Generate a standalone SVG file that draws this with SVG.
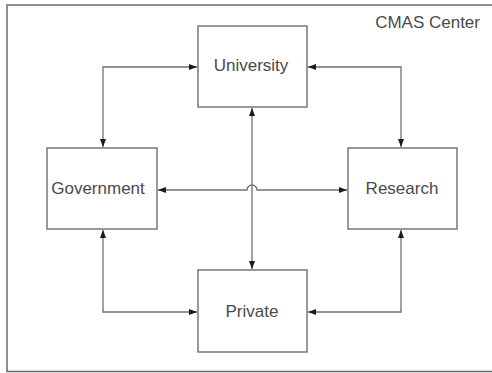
<svg xmlns="http://www.w3.org/2000/svg" width="492" height="373" viewBox="0 0 492 373">
<style>
.box{fill:#fff;stroke:#6e6e6e;stroke-width:1.4}
.lbl{font-family:"Liberation Sans",Arial,sans-serif;font-size:17px;fill:#4a4a4a;text-anchor:middle}
.ln{fill:none;stroke:#707070;stroke-width:1.3}
</style>
<defs>
<marker id="ah" viewBox="0 0 8 6" refX="8" refY="3" markerWidth="8" markerHeight="6" markerUnits="userSpaceOnUse" orient="auto-start-reverse">
<path d="M0,0 L8,3 L0,6 z" fill="#1a1a1a"/>
</marker>
</defs>
<rect x="7" y="5" width="490" height="366.5" fill="#fff" stroke="#6a6a6a" stroke-width="1.5"/>
<text x="480" y="28" font-family="'Liberation Sans',Arial,sans-serif" font-size="17" fill="#4a4a4a" text-anchor="end">CMAS Center</text>
<g id="connectors">
<path class="ln" d="M197,67 H103 V147" marker-start="url(#ah)" marker-end="url(#ah)"/>
<path class="ln" d="M308,67 H401 V147" marker-start="url(#ah)" marker-end="url(#ah)"/>
<path class="ln" d="M103,230 V312 H197" marker-start="url(#ah)" marker-end="url(#ah)"/>
<path class="ln" d="M401,230 V312 H308" marker-start="url(#ah)" marker-end="url(#ah)"/>
<path class="ln" d="M252,108 V269" marker-start="url(#ah)" marker-end="url(#ah)"/>
<path class="ln" d="M158,190 H247 A5,5 0 0 1 257,190 H347" marker-start="url(#ah)" marker-end="url(#ah)"/>
</g>
<g id="university">
<rect class="box" x="198" y="26" width="109" height="81"/>
<text class="lbl" x="251" y="71">University</text>
</g>
<g id="government">
<rect class="box" x="47" y="148" width="110" height="81"/>
<text class="lbl" x="98" y="194">Government</text>
</g>
<g id="research">
<rect class="box" x="348" y="148" width="109" height="81"/>
<text class="lbl" x="402" y="194">Research</text>
</g>
<g id="private">
<rect class="box" x="198" y="270" width="109" height="82"/>
<text class="lbl" x="252" y="317">Private</text>
</g>
</svg>
